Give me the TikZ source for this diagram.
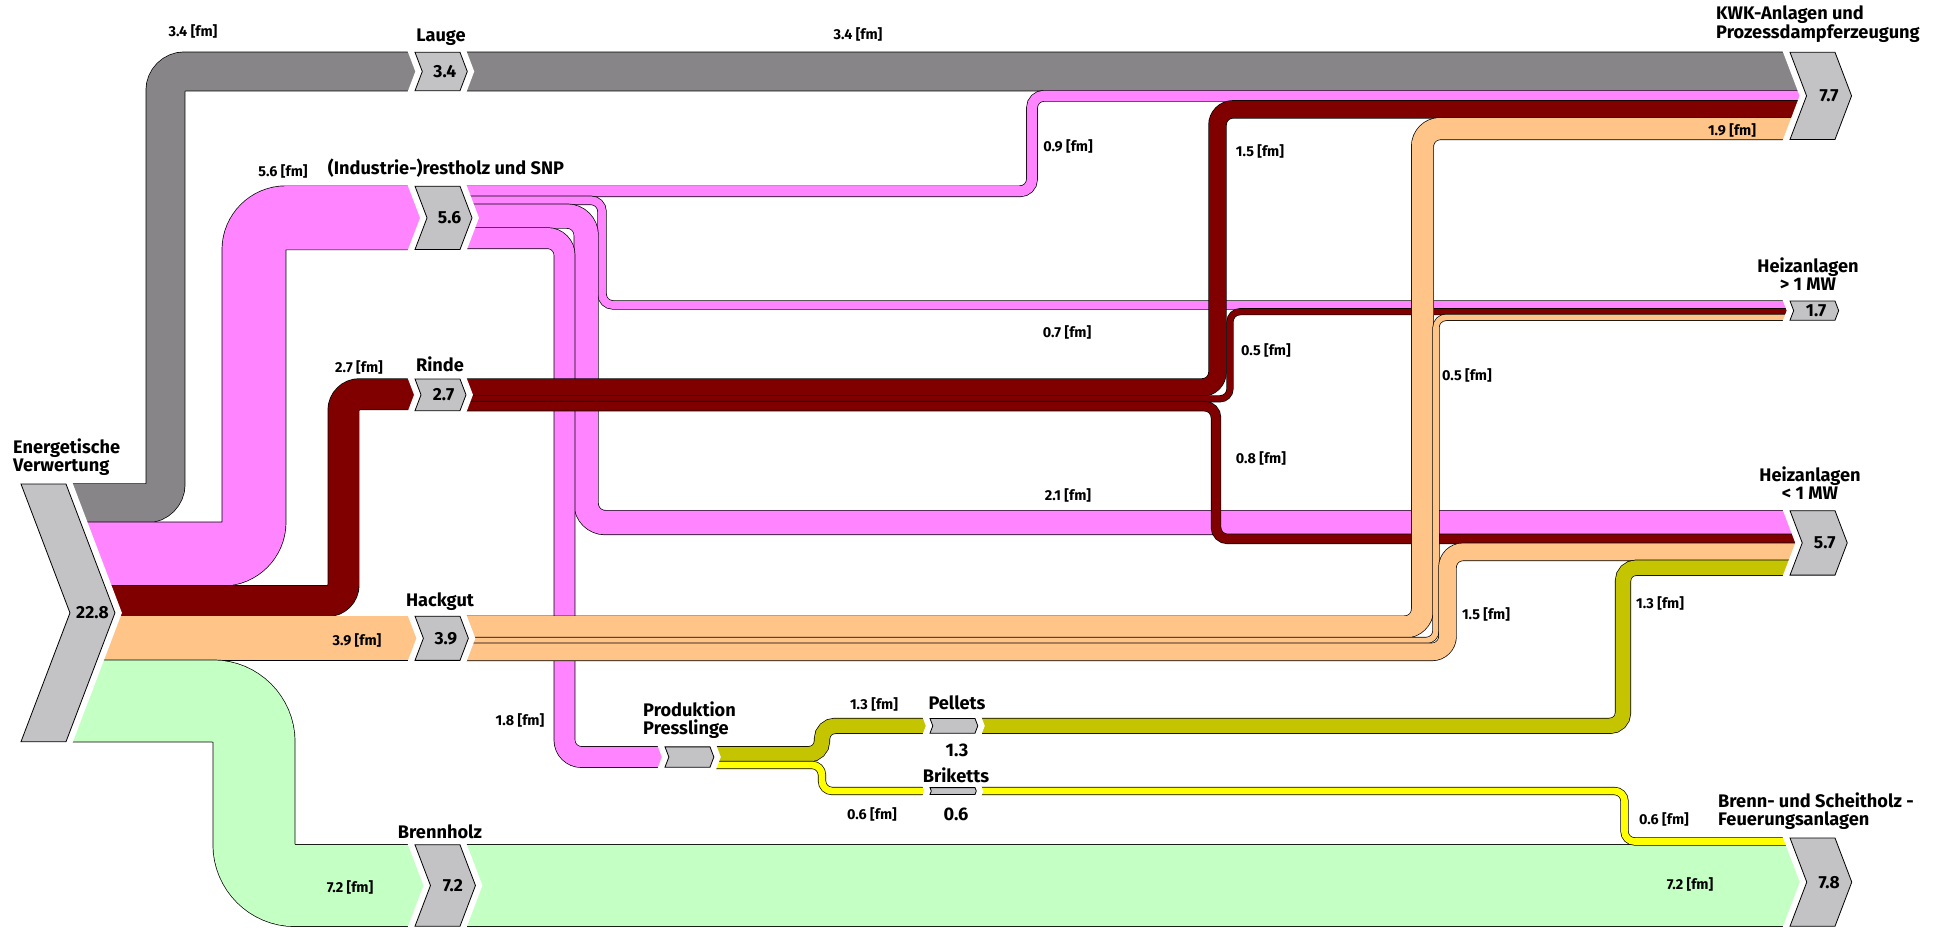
\documentclass[tikz,border=0pt]{standalone}
\usepackage{fontspec}
\setmainfont{Fira Sans}

\definecolor{laugec}{RGB}{135,133,135}
\definecolor{restc}{RGB}{255,132,255}
\definecolor{rindec}{RGB}{128,0,0}
\definecolor{hackc}{RGB}{255,196,136}
\definecolor{brennc}{RGB}{196,255,196}
\definecolor{pelletc}{RGB}{196,196,0}
\definecolor{brikc}{RGB}{255,255,0}
\definecolor{chevc}{RGB}{195,194,197}

\tikzset{
	band/.style 2 args={draw=black, line width=0.7pt, double=#1, double distance=#2},
	chevbox/.style={fill=chevc, draw=black, line width=0.8pt, line join=miter,
		preaction={draw=white, line width=13pt, line join=miter}},
	chevnum/.style={font=\bfseries\fontsize{17.5}{17.5}\selectfont, inner sep=0pt},
	title/.style={font=\bfseries\fontsize{18.2}{17.8}\selectfont, align=center, inner sep=0pt},
	fmlab/.style={font=\bfseries\fontsize{14.4}{15}\selectfont, inner sep=0pt},
}

% chevron: name, left x, top y, bottom y, value
\newcommand{\chev}[5]{%
	\pgfmathsetmacro{\chevd}{0.19*(#4-#3)}%
	\pgfmathsetmacro{\chevm}{(#3+#4)/2}%
	\draw[chevbox] (#2,#3) -- (#2+45,#3) -- (#2+45+\chevd,\chevm) -- (#2+45,#4) -- (#2,#4) -- (#2+\chevd,\chevm) -- cycle;
	\node[chevnum] (#1) at (#2+22.5+\chevd,\chevm) {#5};
}

\begin{document}
\begin{tikzpicture}[x=1pt,y=-1pt]
	\useasboundingbox (0,0) rectangle (1942,927);
	\fill[white] (0,0) rectangle (1942,927);

	% Lauge
	\draw[band={laugec}{38.4pt}, rounded corners=19pt] (72,503.2) -- (165.5,503.2) -- (165.5,71.5) -- (1815,71.5);

	% (Industrie-)restholz und SNP
	\draw[band={restc}{63.3pt}, rounded corners=32pt] (72,554.05) -- (254,554.05) -- (254,217.85) -- (450,217.85);
	\draw[band={restc}{10.2pt}, rounded corners=12pt] (450,191.3) -- (1032,191.3) -- (1032,95.8) -- (1815,95.8);
	\draw[band={restc}{7.9pt}, rounded corners=11pt] (450,200.35) -- (602,200.35) -- (602,304.95) -- (1815,304.95);
	\draw[band={restc}{23.7pt}, rounded corners=19pt] (450,216.15) -- (586.15,216.15) -- (586.15,522.55) -- (1815,522.55);
	\draw[band={restc}{20.3pt}, rounded corners=17pt] (450,238.15) -- (564.5,238.15) -- (564.5,757) -- (690,757);

	% Rinde
	\draw[band={rindec}{30.5pt}, rounded corners=16pt] (72,600.95) -- (343.5,600.95) -- (343.5,394.25) -- (450,394.25);
	\draw[band={rindec}{17pt}, rounded corners=15.5pt] (450,387.5) -- (1217.5,387.5) -- (1217.5,109.4) -- (1815,109.4);
	\draw[band={rindec}{5.65pt}, rounded corners=10pt] (450,398.8) -- (1230,398.8) -- (1230,311.7) -- (1815,311.7);
	\draw[band={rindec}{9pt}, rounded corners=11.5pt] (450,406.15) -- (1216,406.15) -- (1216,538.9) -- (1815,538.9);

	% Hackgut
	\draw[band={hackc}{44.1pt}] (72,638.25) -- (450,638.25);
	\draw[band={hackc}{21.5pt}, rounded corners=17.75pt] (450,626.95) -- (1422.5,626.95) -- (1422.5,128.65) -- (1815,128.65);
	\draw[band={hackc}{5.65pt}, rounded corners=10pt] (450,640.5) -- (1436,640.5) -- (1436,317.4) -- (1815,317.4);
	\draw[band={hackc}{17pt}, rounded corners=15.5pt] (450,651.85) -- (1447.5,651.85) -- (1447.5,551.9) -- (1815,551.9);

	% Brennholz
	\draw[band={brennc}{81.4pt}, rounded corners=41pt] (72,701) -- (254,701) -- (254,885.5) -- (1815,885.5);

	% Pellets, Briketts
	\draw[band={pelletc}{14.7pt}, rounded corners=13pt] (690,754.2) -- (822,754.2) -- (822,725.85) -- (1623,725.85) -- (1623,567.75) -- (1815,567.75);
	\draw[band={brikc}{6.8pt}, rounded corners=10pt] (690,764.95) -- (822,764.95) -- (822,791) -- (1624.5,791) -- (1624.5,841.4) -- (1815,841.4);

	% chevrons
	\chev{src}{21}{484}{741.7}{22.8}
	\chev{lauge}{415}{52.3}{90.7}{3.4}
	\chev{rest}{415}{186.2}{249.5}{5.6}
	\chev{rinde}{415}{379}{410.65}{2.7}
	\chev{hack}{415}{616.2}{660.35}{3.9}
	\chev{brenn}{415}{844.8}{926.2}{7.2}
	\chev{press}{665}{746.85}{767.15}{}
	\chev{pellet}{930}{718.5}{733.2}{}
	\chev{brik}{930}{787.6}{794.4}{}
	\chev{kwk}{1790}{52.3}{139.4}{7.7}
	\chev{heizgr}{1790}{301}{320.2}{1.7}
	\chev{heizkl}{1790}{510.7}{575.1}{5.7}
	\chev{feuer}{1790}{838}{926.2}{7.8}

	% titles
	\node[title, align=left, anchor=west] (t-src) at (13,457) {Energetische\\Verwertung};
	\node[title] (t-lauge) at (441,37) {Lauge};
	\node[title] (t-rest) at (446,168) {(Industrie-)restholz und SNP};
	\node[title] (t-rinde) at (440,364) {Rinde};
	\node[title] (t-hack) at (440,602) {Hackgut};
	\node[title] (t-brenn) at (440,832) {Brennholz};
	\node[title, align=left, anchor=west] (t-press) at (643,720) {Produktion\\Presslinge};
	\node[title] (t-pellet) at (957,703) {Pellets};
	\node[title] (n-pellet) at (957,750) {1.3};
	\node[title] (t-brik) at (956,775) {Briketts};
	\node[title] (n-brik) at (956,814) {0.6};
	\node[title, align=left, anchor=west] (t-kwk) at (1716,24.5) {KWK-Anlagen und\\Prozessdampferzeugung};
	\node[title] (t-heizgr) at (1808,274) {Heizanlagen\\> 1 MW};
	\node[title] (t-heizkl) at (1810,483) {Heizanlagen\\< 1 MW};
	\node[title, align=left, anchor=west] (t-feuer) at (1718,811.5) {Brenn- und Scheitholz -\\Feuerungsanlagen};

	% flow values
	\node[fmlab] (f-lauge) at (193,31) {3.4 [fm]};
	\node[fmlab] (f-lauge2) at (858,34) {3.4 [fm]};
	\node[fmlab] (f-rest) at (283,171) {5.6 [fm]};
	\node[fmlab] (f-rinde) at (359,367) {2.7 [fm]};
	\node[fmlab] (f-hack) at (357,640) {3.9 [fm]};
	\node[fmlab] (f-brenn) at (350,887) {7.2 [fm]};
	\node[fmlab] (f-brenn2) at (1690,884) {7.2 [fm]};
	\node[fmlab] (f-rest-kwk) at (1068,146) {0.9 [fm]};
	\node[fmlab] (f-rest-gr) at (1067,332) {0.7 [fm]};
	\node[fmlab] (f-rest-kl) at (1068,495) {2.1 [fm]};
	\node[fmlab] (f-rest-press) at (520,720) {1.8 [fm]};
	\node[fmlab] (f-rinde-kwk) at (1260,151) {1.5 [fm]};
	\node[fmlab] (f-rinde-gr) at (1266,350) {0.5 [fm]};
	\node[fmlab] (f-rinde-kl) at (1261,458) {0.8 [fm]};
	\node[fmlab] (f-hack-kwk) at (1732,130) {1.9 [fm]};
	\node[fmlab] (f-hack-gr) at (1467,375) {0.5 [fm]};
	\node[fmlab] (f-hack-kl) at (1486,614) {1.5 [fm]};
	\node[fmlab] (f-pellet) at (874,704) {1.3 [fm]};
	\node[fmlab] (f-pellet2) at (1660,603) {1.3 [fm]};
	\node[fmlab] (f-brik) at (872,814) {0.6 [fm]};
	\node[fmlab] (f-brik2) at (1664,819) {0.6 [fm]};
\end{tikzpicture}
\end{document}
